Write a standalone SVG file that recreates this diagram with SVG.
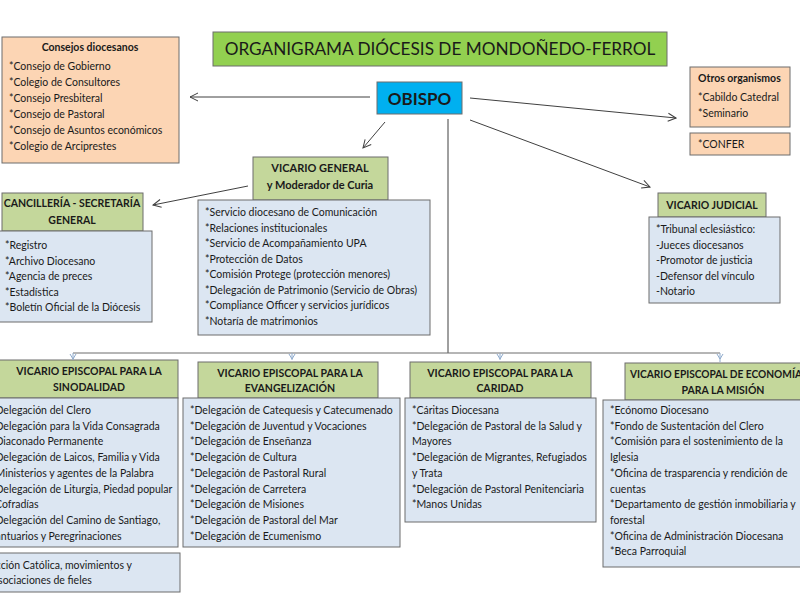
<svg xmlns="http://www.w3.org/2000/svg" width="800" height="600" viewBox="0 0 800 600">
<defs>
<style>
.t{font-family:Lato,"Open Sans","Liberation Sans",sans-serif;font-size:10.5px;fill:#1a1a1a}
.b{font-weight:bold;text-anchor:middle}
.peach{fill:#fcd5b4;stroke:#6d6d6d;stroke-width:1}
.hdr{fill:#c4d79b;stroke:#6d6d6d;stroke-width:1}
.cnt{fill:#dce6f2;stroke:#6d6d6d;stroke-width:1}
.ln{stroke:#404040;stroke-width:1;fill:none}
.tick{stroke:#8eaacc;stroke-width:1;fill:none}
</style>
<marker id="ah" markerWidth="10" markerHeight="10" refX="9" refY="5" orient="auto" markerUnits="userSpaceOnUse">
<path d="M1,1 L9,5 L1,9" fill="none" stroke="#404040" stroke-width="1"/>
</marker>
</defs>
<rect width="800" height="600" fill="#ffffff"/>

<g id="title">
<rect x="213" y="32" width="454" height="34" fill="#92d050" stroke="#6d6d6d"/>
<text x="440" y="55" class="t" style="font-size:17.2px;text-anchor:middle">ORGANIGRAMA DIÓCESIS DE MONDOÑEDO-FERROL</text>
</g>

<g id="obispo">
<rect x="377" y="82" width="85" height="32" fill="#00b0f0" stroke="#6d6d6d"/>
<text x="419.5" y="104.5" class="t b" style="font-size:17px">OBISPO</text>
</g>

<g id="consejos">
<rect x="2" y="37" width="177" height="126" class="peach"/>
<text x="90" y="51" class="t b">Consejos diocesanos</text>
<text class="t" x="9" y="70">*Consejo de Gobierno</text>
<text class="t" x="9" y="86">*Colegio de Consultores</text>
<text class="t" x="9" y="102">*Consejo Presbiteral</text>
<text class="t" x="9" y="118">*Consejo de Pastoral</text>
<text class="t" x="9" y="134">*Consejo de Asuntos económicos</text>
<text class="t" x="9" y="150">*Colegio de Arciprestes</text>
</g>

<g id="otros">
<rect x="690" y="67" width="100" height="60" class="peach"/>
<text x="698" y="82" class="t" style="font-weight:bold">Otros organismos</text>
<text class="t" x="698" y="101">*Cabildo Catedral</text>
<text class="t" x="698" y="117">*Seminario</text>
</g>

<g id="confer">
<rect x="690" y="133" width="100" height="22" class="peach"/>
<text class="t" x="698" y="148">*CONFER</text>
</g>

<g id="vicario-general">
<rect x="253" y="157" width="135" height="43" class="hdr"/>
<text x="320" y="172" class="t b" style="font-size:11px">VICARIO GENERAL</text>
<text x="320" y="189" class="t b" style="font-size:11px">y Moderador de Curia</text>
<rect x="198" y="200" width="232" height="135" class="cnt"/>
<text class="t" x="205" y="216">*Servicio diocesano de Comunicación</text>
<text class="t" x="205" y="231.5">*Relaciones institucionales</text>
<text class="t" x="205" y="247">*Servicio de Acompañamiento UPA</text>
<text class="t" x="205" y="262.5">*Protección de Datos</text>
<text class="t" x="205" y="278">*Comisión Protege (protección menores)</text>
<text class="t" x="205" y="293.5">*Delegación de Patrimonio (Servicio de Obras)</text>
<text class="t" x="205" y="309">*Compliance Officer y servicios jurídicos</text>
<text class="t" x="205" y="324.5">*Notaría de matrimonios</text>
</g>

<g id="cancilleria">
<rect x="2" y="193" width="141" height="38" class="hdr"/>
<text x="72" y="207" class="t b">CANCILLERÍA - SECRETARÍA</text>
<text x="72" y="224" class="t b">GENERAL</text>
<rect x="-2" y="231" width="154" height="91" class="cnt"/>
<text class="t" x="5" y="249">*Registro</text>
<text class="t" x="5" y="264.5">*Archivo Diocesano</text>
<text class="t" x="5" y="280">*Agencia de preces</text>
<text class="t" x="5" y="295.5">*Estadística</text>
<text class="t" x="5" y="311">*Boletín Oficial de la Diócesis</text>
</g>

<g id="vicario-judicial">
<rect x="658" y="193" width="108" height="24" class="hdr"/>
<text x="712" y="209" class="t b">VICARIO JUDICIAL</text>
<rect x="649" y="217" width="131" height="86" class="cnt"/>
<text class="t" x="656" y="233">*Tribunal eclesiástico:</text>
<text class="t" x="656" y="248.5">-Jueces diocesanos</text>
<text class="t" x="656" y="264">-Promotor de justicia</text>
<text class="t" x="656" y="279.5">-Defensor del  vínculo</text>
<text class="t" x="656" y="295">-Notario</text>
</g>

<g id="sinodalidad">
<rect x="-2" y="360" width="180" height="38" class="hdr"/>
<text x="89" y="375" class="t b">VICARIO EPISCOPAL PARA LA</text>
<text x="89" y="391" class="t b">SINODALIDAD</text>
<rect x="-2" y="398" width="180" height="149" class="cnt"/>
<text class="t" x="-9" y="414">*Delegación del Clero</text>
<text class="t" x="-9" y="429.7">*Delegación para la Vida Consagrada</text>
<text class="t" x="-9" y="445.4">*Diaconado Permanente</text>
<text class="t" x="-9" y="461.1">*Delegación de Laicos, Familia y Vida</text>
<text class="t" x="-9" y="476.8">*Ministerios y agentes de la Palabra</text>
<text class="t" x="-9" y="492.5">*Delegación de Liturgia, Piedad popular</text>
<text class="t" x="-5" y="508.2">Cofradías</text>
<text class="t" x="-9" y="523.9">*Delegación del Camino de Santiago,</text>
<text class="t" x="-10" y="539.6">Santuarios  y Peregrinaciones</text>
<rect x="-2" y="553" width="182" height="39" class="cnt"/>
<text class="t" x="-15" y="569">*Acción Católica, movimientos y</text>
<text class="t" x="-9" y="584">Asociaciones de fieles</text>
</g>

<g id="evangelizacion">
<rect x="198" y="362" width="180" height="36" class="hdr"/>
<text x="290" y="377" class="t b">VICARIO EPISCOPAL PARA LA</text>
<text x="290" y="392" class="t b">EVANGELIZACIÓN</text>
<rect x="183" y="398" width="217" height="149" class="cnt"/>
<text class="t" x="190" y="414">*Delegación de Catequesis y Catecumenado</text>
<text class="t" x="190" y="429.7">*Delegación de Juventud y Vocaciones</text>
<text class="t" x="190" y="445.4">*Delegación de Enseñanza</text>
<text class="t" x="190" y="461.1">*Delegación de Cultura</text>
<text class="t" x="190" y="476.8">*Delegación de Pastoral Rural</text>
<text class="t" x="190" y="492.5">*Delegación de Carretera</text>
<text class="t" x="190" y="508.2">*Delegación de Misiones</text>
<text class="t" x="190" y="523.9">*Delegación de Pastoral del Mar</text>
<text class="t" x="190" y="539.6">*Delegación de Ecumenismo</text>
</g>

<g id="caridad">
<rect x="410" y="362" width="181" height="36" class="hdr"/>
<text x="500" y="377" class="t b">VICARIO EPISCOPAL PARA LA</text>
<text x="500" y="392" class="t b">CARIDAD</text>
<rect x="405" y="398" width="191" height="124" class="cnt"/>
<text class="t" x="412" y="414">*Cáritas Diocesana</text>
<text class="t" x="412" y="429.7">*Delegación de Pastoral de la Salud y</text>
<text class="t" x="412" y="445.4">Mayores</text>
<text class="t" x="412" y="461.1">*Delegación de Migrantes, Refugiados</text>
<text class="t" x="412" y="476.8">y Trata</text>
<text class="t" x="412" y="492.5">*Delegación de Pastoral Penitenciaria</text>
<text class="t" x="412" y="508.2">*Manos Unidas</text>
</g>

<g id="economia">
<rect x="625" y="363" width="200" height="37" class="hdr"/>
<text x="630" y="378" class="t" style="font-weight:bold" textLength="172" lengthAdjust="spacingAndGlyphs">VICARIO EPISCOPAL DE ECONOMÍA</text>
<text x="723" y="394" class="t b">PARA LA MISIÓN</text>
<rect x="603" y="400" width="222" height="167" class="cnt"/>
<text class="t" x="610" y="414">*Ecónomo Diocesano</text>
<text class="t" x="610" y="429.7">*Fondo de Sustentación del Clero</text>
<text class="t" x="610" y="445.4">*Comisión para el sostenimiento de la</text>
<text class="t" x="610" y="461.1">Iglesia</text>
<text class="t" x="610" y="476.8">*Oficina de trasparencia y rendición de</text>
<text class="t" x="610" y="492.5">cuentas</text>
<text class="t" x="610" y="508.2">*Departamento de gestión inmobiliaria y</text>
<text class="t" x="610" y="523.9">forestal</text>
<text class="t" x="610" y="539.6">*Oficina de Administración Diocesana</text>
<text class="t" x="610" y="555.3">*Beca Parroquial</text>
</g>

<g id="connectors">
<line x1="370" y1="97" x2="190" y2="97" class="ln" marker-end="url(#ah)"/>
<line x1="470" y1="98" x2="676" y2="118" class="ln" marker-end="url(#ah)"/>
<line x1="470" y1="120" x2="650" y2="187" class="ln" marker-end="url(#ah)"/>
<line x1="385" y1="122" x2="363" y2="148" class="ln" marker-end="url(#ah)"/>
<line x1="248" y1="186" x2="153" y2="205" class="ln" marker-end="url(#ah)"/>
<polyline points="448,119 448,353" class="ln"/>
<polyline points="73,353 720,353" class="ln" style="stroke:#6d6d6d"/>
<path d="M70,354 L73,359 L76,354 M73,353 L73,360" class="tick"/>
<path d="M289,354 L292,359 L295,354 M292,353 L292,360" class="tick"/>
<path d="M497,354 L500,359 L503,354 M500,353 L500,360" class="tick"/>
<path d="M717,354 L720,359 L723,354 M720,353 L720,362" class="tick"/>
</g>
</svg>
